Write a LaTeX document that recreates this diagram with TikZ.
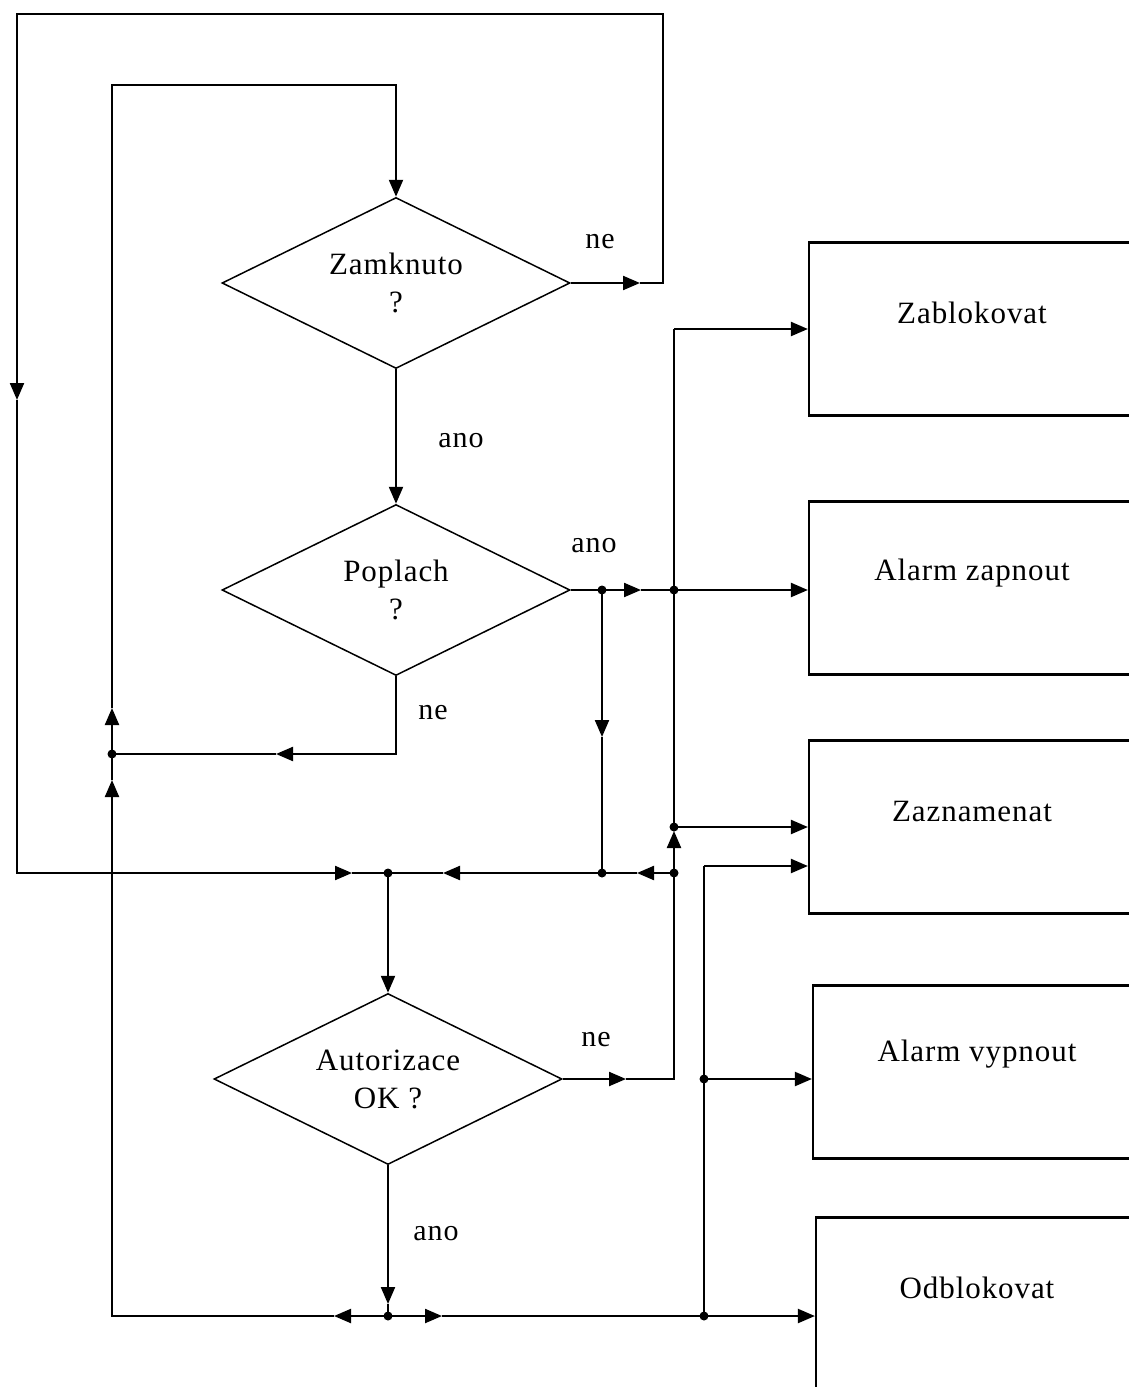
\documentclass[tikz,border=0pt]{standalone}
\usepackage{fontspec}
\setmainfont{Liberation Serif}[LetterSpace=3]
\usetikzlibrary{shapes.geometric,arrows.meta}
\begin{document}
\begin{tikzpicture}[x=1pt,y=-1pt,
  conn/.style={line width=2.2pt},
  arr/.style={conn,-{Triangle[length=17pt,width=14pt]}},
  dec/.style={diamond,draw,line width=1.5pt,aspect=2.04,inner sep=0pt,minimum width=348pt,minimum height=171pt,align=center,font=\fontsize{31}{38}\selectfont},
  box/.style={rectangle,draw,line width=2.2pt,minimum width=340pt,minimum height=173pt,inner sep=0pt},
  boxtxt/.style={font=\fontsize{31}{36}\selectfont},
  lbl/.style={font=\fontsize{30}{34}\selectfont},
  dot/.style={circle,fill,inner sep=0pt,minimum size=9pt}]
\useasboundingbox (0,0) rectangle (1129,1387);
\fill[white] (0,0) rectangle (1129,1387);
\clip (0,0) rectangle (1129,1387);

% decisions
\node[dec] (d1) at (396,283) {Zamknuto\\?};
\node[dec] (d2) at (396,590) {Poplach\\?};
\node[dec] (d3) at (388,1079) {Autorizace\\OK ?};

% boxes
\node[box] (zab) at (979,329) {};
\node[box] (zap) at (979,588) {};
\node[box] (zaz) at (979,827) {};
\node[box] (vyp) at (983,1072) {};
\node[box] (odb) at (986,1304) {};
\node[boxtxt] (tzab) at (972,313) {Zablokovat};
\node[boxtxt] (tzap) at (972,573) {Alarm zapnout};
\node[boxtxt] (tzaz) at (972,811) {Zaznamenat};
\node[boxtxt] (tvyp) at (977,1054) {Alarm vypnout};
\node[boxtxt] (todb) at (977,1288) {Odblokovat};

% labels
\node[lbl] (l1) at (600,242) {ne};
\node[lbl] (l2) at (461,441) {ano};
\node[lbl] (l3) at (594,546) {ano};
\node[lbl] (l4) at (433,713) {ne};
\node[lbl] (l5) at (596,1040) {ne};
\node[lbl] (l6) at (436,1234) {ano};

% junctions and bends
\coordinate (j1) at (388,873);
\coordinate (j2) at (602,590);
\coordinate (j3) at (674,590);
\coordinate (j4) at (602,873);
\coordinate (jR) at (674,873);
\coordinate (jZ) at (674,827);
\coordinate (jL) at (112,754);
\coordinate (j5) at (388,1316);
\coordinate (j6) at (704,1316);
\coordinate (j7) at (704,1079);
\coordinate (kz) at (704,866);
\coordinate (a1) at (640,283);
\coordinate (a2) at (17,400);
\coordinate (a3) at (352,873);
\coordinate (a6) at (276,754);
\coordinate (a7) at (112,708);
\coordinate (a8) at (112,780);
\coordinate (a9) at (641,590);
\coordinate (a11) at (602,737);
\coordinate (a12) at (443,873);
\coordinate (a13) at (637,873);
\coordinate (a15) at (674,831);
\coordinate (a16) at (626,1079);
\coordinate (a21) at (388,1304);
\coordinate (a22) at (334,1316);
\coordinate (a23) at (442,1316);

% outer loop
\draw[arr] (d1.east) -- (a1);
\draw[arr] (a1) -- (663,283) -- (663,14) -- (17,14) -- (a2);
\draw[arr] (a2) -- (17,873) -- (a3);
\draw[conn] (a3) -- (j1);

% inner loop
\draw[arr] (j5) -- (a22);
\draw[arr] (a22) -- (112,1316) -- (a8);
\draw[conn] (a8) -- (jL);
\draw[arr] (jL) -- (a7);
\draw[arr] (a7) -- (112,85) -- (396,85) -- (d1.north);

% main flow
\draw[arr] (d1.south) -- (d2.north);
\draw[arr] (d2.south) -- (396,754) -- (a6);
\draw[conn] (a6) -- (jL);
\draw[conn] (d2.east) -- (j2);
\draw[arr] (j2) -- (a9);
\draw[conn] (a9) -- (j3);
\draw[arr] (j3) -- (zap.west |- j3);
\draw[arr] (j2) -- (a11);
\draw[conn] (a11) -- (j4);
\draw[arr] (jR) -- (a13);
\draw[conn] (a13) -- (j4);
\draw[arr] (j4) -- (a12);
\draw[conn] (a12) -- (j1);
\draw[arr] (j1) -- (d3.north);

% autorizace ne
\draw[arr] (d3.east) -- (a16);
\draw[arr] (a16) -- (674,1079) -- (a15);
\draw[conn] (a15) -- (jZ) -- (j3) -- (674,329);
\draw[arr] (674,329) -- (zab.west);
\draw[arr] (jZ) -- (zaz.west);

% autorizace ano
\draw[arr] (d3.south) -- (a21);
\draw[conn] (a21) -- (j5);
\draw[arr] (j5) -- (a23);
\draw[conn] (a23) -- (j6);
\draw[arr] (j6) -- (odb.west |- j6);
\draw[conn] (j6) -- (j7) -- (kz);
\draw[arr] (kz) -- (zaz.west |- kz);
\draw[arr] (j7) -- (vyp.west |- j7);

% dots
\foreach \p in {j1,j2,j3,j4,jR,jZ,jL,j5,j6,j7}
  \node[dot] at (\p) {};
\end{tikzpicture}
\end{document}
